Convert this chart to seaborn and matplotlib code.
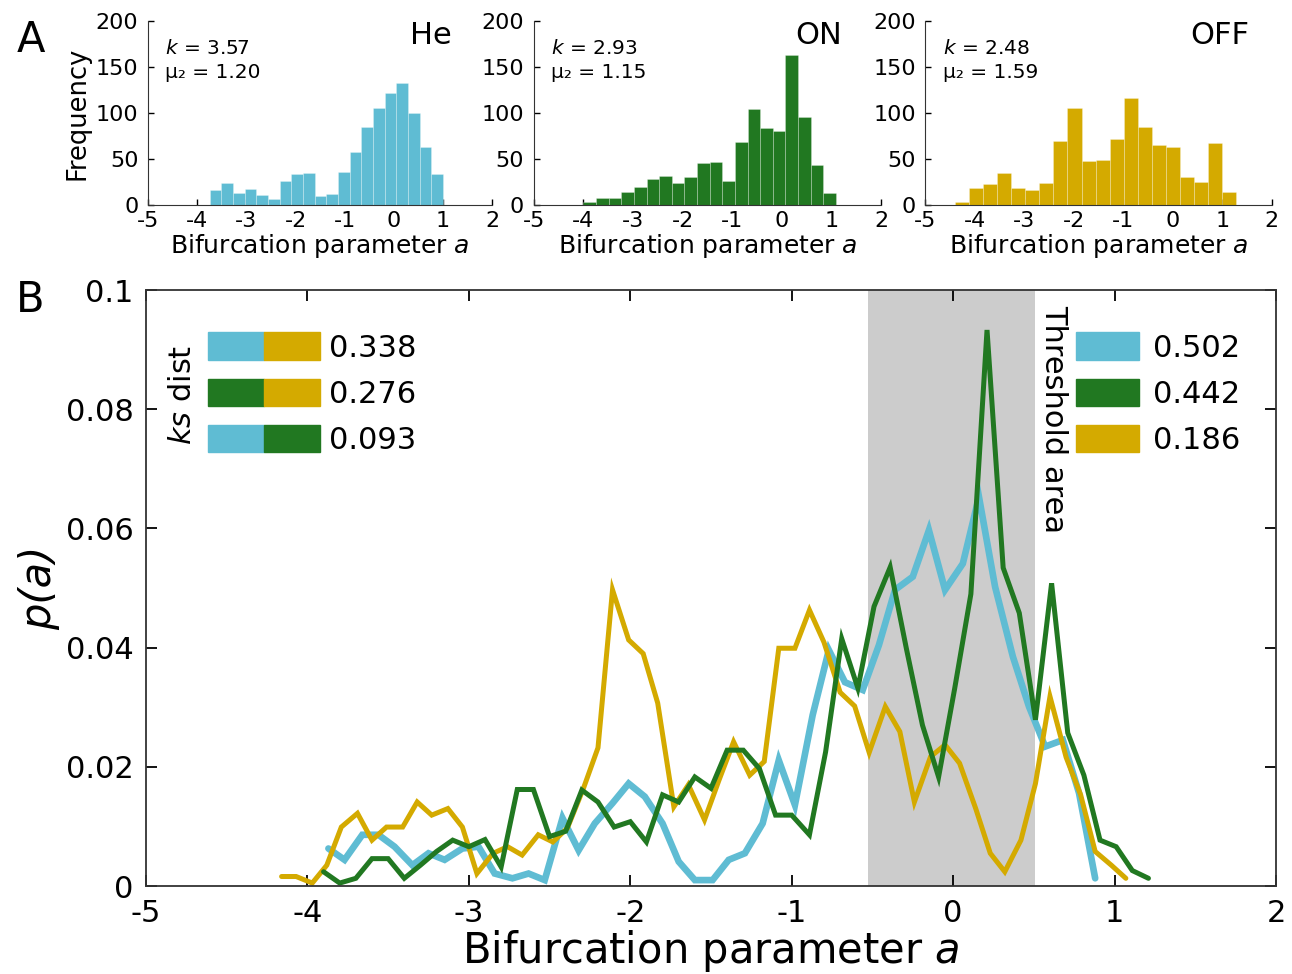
import numpy as np
import seaborn as sns
import matplotlib.pyplot as plt
from matplotlib.patches import Patch
from matplotlib.legend_handler import HandlerTuple

# colours of the three cell groups
he_color = '#5fbcd3'
on_color = '#217821'
off_color = '#d4aa00'

# ---- panel A: histograms (counts per bin) ----
he_counts = [16, 24, 13, 17, 11, 7, 26, 34, 35, 10, 12, 36, 58, 85, 105, 122, 133, 100, 63, 34]
he_binrange = (-3.75, 1.0)
on_counts = [3, 8, 8, 14, 20, 28, 32, 24, 30, 46, 47, 26, 69, 104, 84, 81, 163, 96, 43, 13]
on_binrange = (-4.0, 1.09)
off_counts = [3, 19, 23, 35, 19, 16, 24, 70, 105, 48, 49, 72, 116, 85, 65, 63, 30, 25, 67, 14]
off_binrange = (-4.40, 1.28)

hist_names = ['He', 'ON', 'OFF']
hist_k = ['3.57', '2.93', '2.48']
hist_mu2 = ['1.20', '1.15', '1.59']

# ---- panel B: p(a) curves ----
he_a = [-3.87, -3.77, -3.66, -3.56, -3.46, -3.35, -3.25, -3.15, -3.04, -2.94,
        -2.84, -2.73, -2.63, -2.53, -2.42, -2.32, -2.22, -2.11, -2.01, -1.91,
        -1.80, -1.70, -1.60, -1.49, -1.39, -1.29, -1.18, -1.08, -0.98, -0.87,
        -0.77, -0.67, -0.56, -0.46, -0.36, -0.25, -0.15, -0.05, 0.06, 0.16,
        0.26, 0.37, 0.47, 0.57, 0.68, 0.78, 0.88]
he_p = [0.0063, 0.0044, 0.0086, 0.0086, 0.0066, 0.0035, 0.0055, 0.0044, 0.0063, 0.0066,
        0.0021, 0.0013, 0.0021, 0.0010, 0.0114, 0.0060, 0.0105, 0.0139, 0.0172, 0.0150,
        0.0105, 0.0041, 0.0010, 0.0010, 0.0044, 0.0055, 0.0105, 0.0211, 0.0136, 0.0287,
        0.0396, 0.0342, 0.0329, 0.0404, 0.0497, 0.0519, 0.0597, 0.0497, 0.0541, 0.0653,
        0.0502, 0.0385, 0.0301, 0.0234, 0.0245, 0.0156, 0.0013]

on_a = [-3.90, -3.80, -3.70, -3.60, -3.50, -3.40, -3.30, -3.20, -3.10, -3.00,
        -2.90, -2.80, -2.70, -2.60, -2.50, -2.40, -2.30, -2.20, -2.10, -2.00,
        -1.90, -1.80, -1.70, -1.60, -1.50, -1.40, -1.30, -1.20, -1.10, -1.00,
        -0.89, -0.79, -0.69, -0.59, -0.49, -0.39, -0.29, -0.19, -0.09, 0.01,
        0.11, 0.21, 0.31, 0.41, 0.51, 0.61, 0.71, 0.81, 0.91, 1.01,
        1.11, 1.21]
on_p = [0.0024, 0.0005, 0.0013, 0.0046, 0.0046, 0.0013, 0.0035, 0.0058, 0.0077, 0.0066,
        0.0078, 0.0032, 0.0162, 0.0162, 0.0083, 0.0092, 0.0161, 0.0141, 0.0099, 0.0108,
        0.0074, 0.0153, 0.0141, 0.0183, 0.0164, 0.0228, 0.0228, 0.0197, 0.0119, 0.0119,
        0.0086, 0.0225, 0.0415, 0.0332, 0.0469, 0.0535, 0.0399, 0.0270, 0.0183, 0.0332,
        0.0490, 0.0933, 0.0534, 0.0458, 0.0279, 0.0508, 0.0257, 0.0186, 0.0077, 0.0066,
        0.0026, 0.0013]

off_a = [-4.16, -4.07, -3.97, -3.88, -3.79, -3.69, -3.60, -3.51, -3.41, -3.32,
         -3.23, -3.13, -3.04, -2.95, -2.85, -2.76, -2.67, -2.57, -2.48, -2.39,
         -2.29, -2.20, -2.11, -2.01, -1.92, -1.83, -1.73, -1.64, -1.54, -1.45,
         -1.36, -1.26, -1.17, -1.08, -0.98, -0.89, -0.80, -0.70, -0.61, -0.52,
         -0.42, -0.33, -0.24, -0.14, -0.05, 0.04, 0.14, 0.23, 0.32, 0.42,
         0.51, 0.60, 0.70, 0.79, 0.88, 0.98, 1.07]
off_p = [0.0016, 0.0016, 0.0005, 0.0035, 0.0099, 0.0122, 0.0077, 0.0099, 0.0099, 0.0141,
         0.0119, 0.0130, 0.0099, 0.0021, 0.0055, 0.0066, 0.0052, 0.0086, 0.0074, 0.0097,
         0.0164, 0.0232, 0.0497, 0.0413, 0.0390, 0.0307, 0.0133, 0.0170, 0.0111, 0.0178,
         0.0242, 0.0186, 0.0209, 0.0399, 0.0399, 0.0463, 0.0409, 0.0325, 0.0302, 0.0224,
         0.0301, 0.0259, 0.0141, 0.0217, 0.0237, 0.0206, 0.0130, 0.0055, 0.0024, 0.0077,
         0.0172, 0.0318, 0.0216, 0.0153, 0.0058, 0.0035, 0.0013]

threshold_range = (-0.53, 0.51)
ks_values = ['0.338', '0.276', '0.093']
threshold_values = ['0.502', '0.442', '0.186']

# ---- style ----
sns.set_style('ticks')
plt.rcParams['font.family'] = ['DejaVu Sans']
plt.rcParams['axes.unicode_minus'] = False
plt.rcParams['mathtext.fontset'] = 'dejavusans'
plt.rcParams['lines.solid_joinstyle'] = 'miter'
plt.rcParams['axes.edgecolor'] = '0.2'
for key in ['text.color', 'axes.labelcolor', 'xtick.color', 'ytick.color']:
    plt.rcParams[key] = 'black'

fig = plt.figure(figsize=(12.92, 9.74), dpi=100)

# ---- panel A ----
hist_boxes = [[0.1146, 0.7895, 0.2663, 0.1889],
              [0.4132, 0.7895, 0.2687, 0.1889],
              [0.7163, 0.7895, 0.2679, 0.1889]]
hist_data = [(he_counts, he_binrange, he_color),
             (on_counts, on_binrange, on_color),
             (off_counts, off_binrange, off_color)]
name_x = [0.823, 0.820, 0.851]

for i, (counts, (lo, hi), color) in enumerate(hist_data):
    ax = fig.add_axes(hist_boxes[i])
    n = len(counts)
    width = (hi - lo) / n
    centers = lo + width * (np.arange(n) + 0.5)
    sns.histplot(x=centers, weights=counts, bins=n, binrange=(lo, hi),
                 color=color, alpha=1, edgecolor=(1, 1, 1, 0.35), linewidth=0.5, ax=ax)
    ax.set_xlim(-5, 2)
    ax.set_ylim(0, 200)
    ax.set_xticks(range(-5, 3))
    ax.set_yticks([0, 50, 100, 150, 200])
    ax.tick_params(direction='in', length=4, width=1, labelsize=16, pad=7)
    ax.tick_params(axis='x', pad=4.5)
    sns.despine(ax=ax)
    ax.set_xlabel('Bifurcation parameter $a$', fontsize=18, labelpad=0.5)
    ax.set_ylabel('Frequency' if i == 0 else '', fontsize=18.5, labelpad=4)
    ax.text(0.05, 0.853, '$k$ = ' + hist_k[i], transform=ax.transAxes,
            fontsize=14.5, va='center')
    ax.text(0.05, 0.723, 'μ₂ = ' + hist_mu2[i], transform=ax.transAxes,
            fontsize=14.5, va='center')
    ax.text(name_x[i], 0.924, hist_names[i], transform=ax.transAxes,
            fontsize=22, ha='center', va='center')

# ---- panel B ----
ax = fig.add_axes([0.1130, 0.0903, 0.8746, 0.6119])
ax.axvspan(*threshold_range, color='#cccccc', lw=0, zorder=0)
sns.lineplot(x=he_a, y=he_p, color=he_color, linewidth=4.8, ax=ax)
sns.lineplot(x=off_a, y=off_p, color=off_color, linewidth=3.6, ax=ax)
sns.lineplot(x=on_a, y=on_p, color=on_color, linewidth=3.6, ax=ax)
ax.set_xlim(-5, 2)
ax.set_ylim(0, 0.1)
ax.set_xticks(range(-5, 3))
ax.set_yticks([0, 0.02, 0.04, 0.06, 0.08, 0.1])
ax.set_yticklabels(['0', '0.02', '0.04', '0.06', '0.08', '0.1'])
ax.tick_params(direction='in', length=8, width=1.3, labelsize=22, pad=9,
               top=True, right=True)
for s in ax.spines.values():
    s.set_linewidth(1.3)
ax.set_xlabel('Bifurcation parameter $a$', fontsize=30, labelpad=0)
ax.set_ylabel('p(a)', fontsize=30, fontstyle='italic', labelpad=4)

# ks distance legend (pairs of groups)
ks_handles = [(Patch(color=he_color), Patch(color=off_color)),
              (Patch(color=on_color), Patch(color=off_color)),
              (Patch(color=he_color), Patch(color=on_color))]
leg1 = ax.legend(ks_handles, ks_values, handler_map={tuple: HandlerTuple(ndivide=None, pad=0)},
                 loc='upper left', bbox_to_anchor=(0.0549, 0.929), frameon=False,
                 fontsize=22, handlelength=3.66, handleheight=1.0, handletextpad=0.3,
                 labelspacing=0.53, borderpad=0, borderaxespad=0)
ax.add_artist(leg1)
ax.text(0.0327, 0.824, '$ks$ dist', transform=ax.transAxes, rotation=90,
        fontsize=22, ha='center', va='center')

# fraction in threshold area
th_handles = [Patch(color=he_color), Patch(color=on_color), Patch(color=off_color)]
ax.legend(th_handles, threshold_values, loc='upper left', bbox_to_anchor=(0.823, 0.929),
          frameon=False, fontsize=22, handlelength=2.06, handleheight=1.0,
          handletextpad=0.45, labelspacing=0.53, borderpad=0, borderaxespad=0)
ax.text(0.8035, 0.975, 'Threshold area', transform=ax.transAxes, rotation=270,
        fontsize=22, ha='center', va='top')

fig.text(0.024, 0.959, 'A', fontsize=30, ha='center', va='center')
fig.text(0.0232, 0.692, 'B', fontsize=30, ha='center', va='center')

fig.savefig('out.png', dpi=100)
